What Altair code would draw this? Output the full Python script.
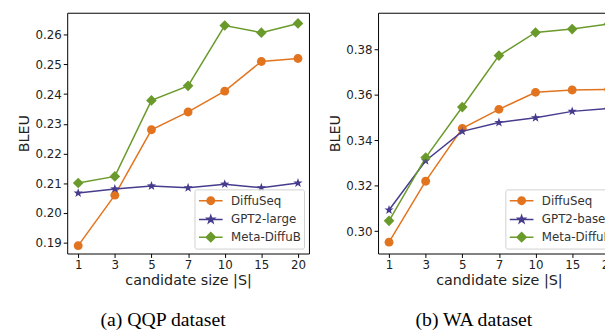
import altair as alt
import pandas as pd

candidates = ["1", "3", "5", "7", "10", "15", "20"]

qqp_series = ["DiffuSeq", "GPT2-large", "Meta-DiffuB"]
qqp_diffuseq = [0.189, 0.206, 0.228, 0.234, 0.241, 0.251, 0.252]
qqp_gpt2 = [0.2067, 0.2081, 0.2091, 0.2085, 0.2097, 0.2085, 0.2101]
qqp_meta = [0.2101, 0.2123, 0.2379, 0.2428, 0.2631, 0.2607, 0.2638]
qqp_ticks = [0.19, 0.20, 0.21, 0.22, 0.23, 0.24, 0.25, 0.26]
qqp_domain = [0.18635, 0.2674]

wa_series = ["DiffuSeq", "GPT2-base", "Meta-DiffuB"]
wa_diffuseq = [0.2951, 0.3220, 0.3453, 0.3537, 0.3612, 0.3622, 0.3625]
wa_gpt2 = [0.3093, 0.3310, 0.3440, 0.3479, 0.3500, 0.3528, 0.3541]
wa_meta = [0.3045, 0.3324, 0.3547, 0.3774, 0.3876, 0.3891, 0.3913]
wa_ticks = [0.30, 0.32, 0.34, 0.36, 0.38]
wa_domain = [0.2901, 0.3963]

colors = ["#E2741F", "#463C8E", "#6A9A2B"]

# marker shapes (plot) and legend symbols (line + marker)
circle = "M1,0A1,1,0,1,1,-1,0A1,1,0,1,1,1,0Z"
star = ("M0,-1.1L0.259,-0.356L1.046,-0.34L0.418,0.136L0.647,0.89L0,0.44"
        "L-0.647,0.89L-0.418,0.136L-1.046,-0.34L-0.259,-0.356Z")
diamond = "M0,-1.2L1.2,0L0,1.2L-1.2,0Z"
markers = [circle, star, diamond]
leg_line = "M-1.6,0H1.6"
leg_circle = leg_line + "M0.5,0A0.5,0.5,0,1,1,-0.5,0A0.5,0.5,0,1,1,0.5,0Z"
leg_star = leg_line + ("M0,-0.52L0.122,-0.168L0.495,-0.16L0.198,0.064L0.306,0.42L0,0.208"
                       "L-0.306,0.42L-0.198,0.064L-0.495,-0.16L-0.122,-0.168Z")
leg_diamond = leg_line + "M0,-0.62L0.62,0L0,0.62L-0.62,0Z"
leg_symbols = [leg_circle, leg_star, leg_diamond]


def make_df(series, values):
    rows = []
    for name, vals in zip(series, values):
        for c, v in zip(candidates, vals):
            rows.append({"candidate": c, "bleu": v, "series": name})
    return pd.DataFrame(rows)


def panel(df, series, ticks, domain, caption):
    x = alt.X("candidate:N", sort=candidates,
              scale=alt.Scale(type="point", padding=0.3),
              axis=alt.Axis(title="candidate size |S|", labelAngle=0))
    y = alt.Y("bleu:Q", scale=alt.Scale(domain=domain, nice=False, zero=False),
              axis=alt.Axis(title="BLEU", values=ticks, format=".2f"))
    base = alt.Chart(df)
    line = base.mark_line(strokeWidth=1.5).encode(
        x=x, y=y,
        color=alt.Color("series:N", scale=alt.Scale(domain=series, range=colors), legend=None))
    layers = [line]
    for name, col, shp in zip(series, colors, markers):
        layers.append(
            base.transform_filter(alt.datum.series == name)
            .mark_point(filled=True, size=81, opacity=1, shape=shp, color=col)
            .encode(x=x, y=y))
    leg = alt.Legend(title=None, orient="bottom-right", offset=5, symbolSize=225,
                     symbolStrokeWidth=1.5, symbolOffset=5, labelOffset=12,
                     labelFontSize=12, labelFont="DejaVu Sans", labelColor="#333",
                     padding=3, rowPadding=3, fillColor="rgba(255,255,255,0.85)",
                     strokeColor="#d0d0d0", cornerRadius=2, symbolOpacity=1)
    legend_layer = base.mark_point(size=1, filled=True).encode(
        x=x, y=y,
        shape=alt.Shape("series:N", scale=alt.Scale(domain=series, range=leg_symbols), legend=leg),
        fill=alt.Fill("series:N", scale=alt.Scale(domain=series, range=colors), legend=leg),
        stroke=alt.Stroke("series:N", scale=alt.Scale(domain=series, range=colors), legend=leg))
    layers.append(legend_layer)
    return alt.layer(*layers).resolve_scale(
        color="independent", shape="independent", fill="independent", stroke="independent"
    ).resolve_legend(
        color="independent", shape="independent", fill="independent", stroke="independent"
    ).properties(
        width=245, height=244,
        title=alt.TitleParams(caption, orient="bottom", font="Liberation Serif", fontSize=20,
                              fontWeight="normal", color="black", offset=24, anchor="middle",
                              frame="bounds"))


qqp_df = make_df(qqp_series, [qqp_diffuseq, qqp_gpt2, qqp_meta])
wa_df = make_df(wa_series, [wa_diffuseq, wa_gpt2, wa_meta])

left = panel(qqp_df, qqp_series, qqp_ticks, qqp_domain, "(a) QQP dataset")
right = panel(wa_df, wa_series, wa_ticks, wa_domain, "(b) WA dataset")

chart = alt.hconcat(left, right, spacing=17).resolve_scale(
    color="independent", shape="independent", fill="independent", stroke="independent",
    x="independent", y="independent"
).resolve_legend(
    color="independent", shape="independent", fill="independent", stroke="independent"
).properties(
    autosize=alt.AutoSizeParams(type="none"),
    padding={"left": 60, "top": 1, "right": 545, "bottom": 323}
).configure_view(
    stroke="black", strokeWidth=1
).configure_axis(
    domain=False, grid=False, tickColor="black", tickSize=4, tickWidth=1,
    labelFont="DejaVu Sans", labelFontSize=12, labelColor="#222", labelPadding=2,
    titleFont="DejaVu Sans", titleFontSize=14.5, titleFontWeight="normal", titleColor="#222",
    titlePadding=3
)

chart.save("out.html", embed_options={"renderer": "svg", "actions": False})
